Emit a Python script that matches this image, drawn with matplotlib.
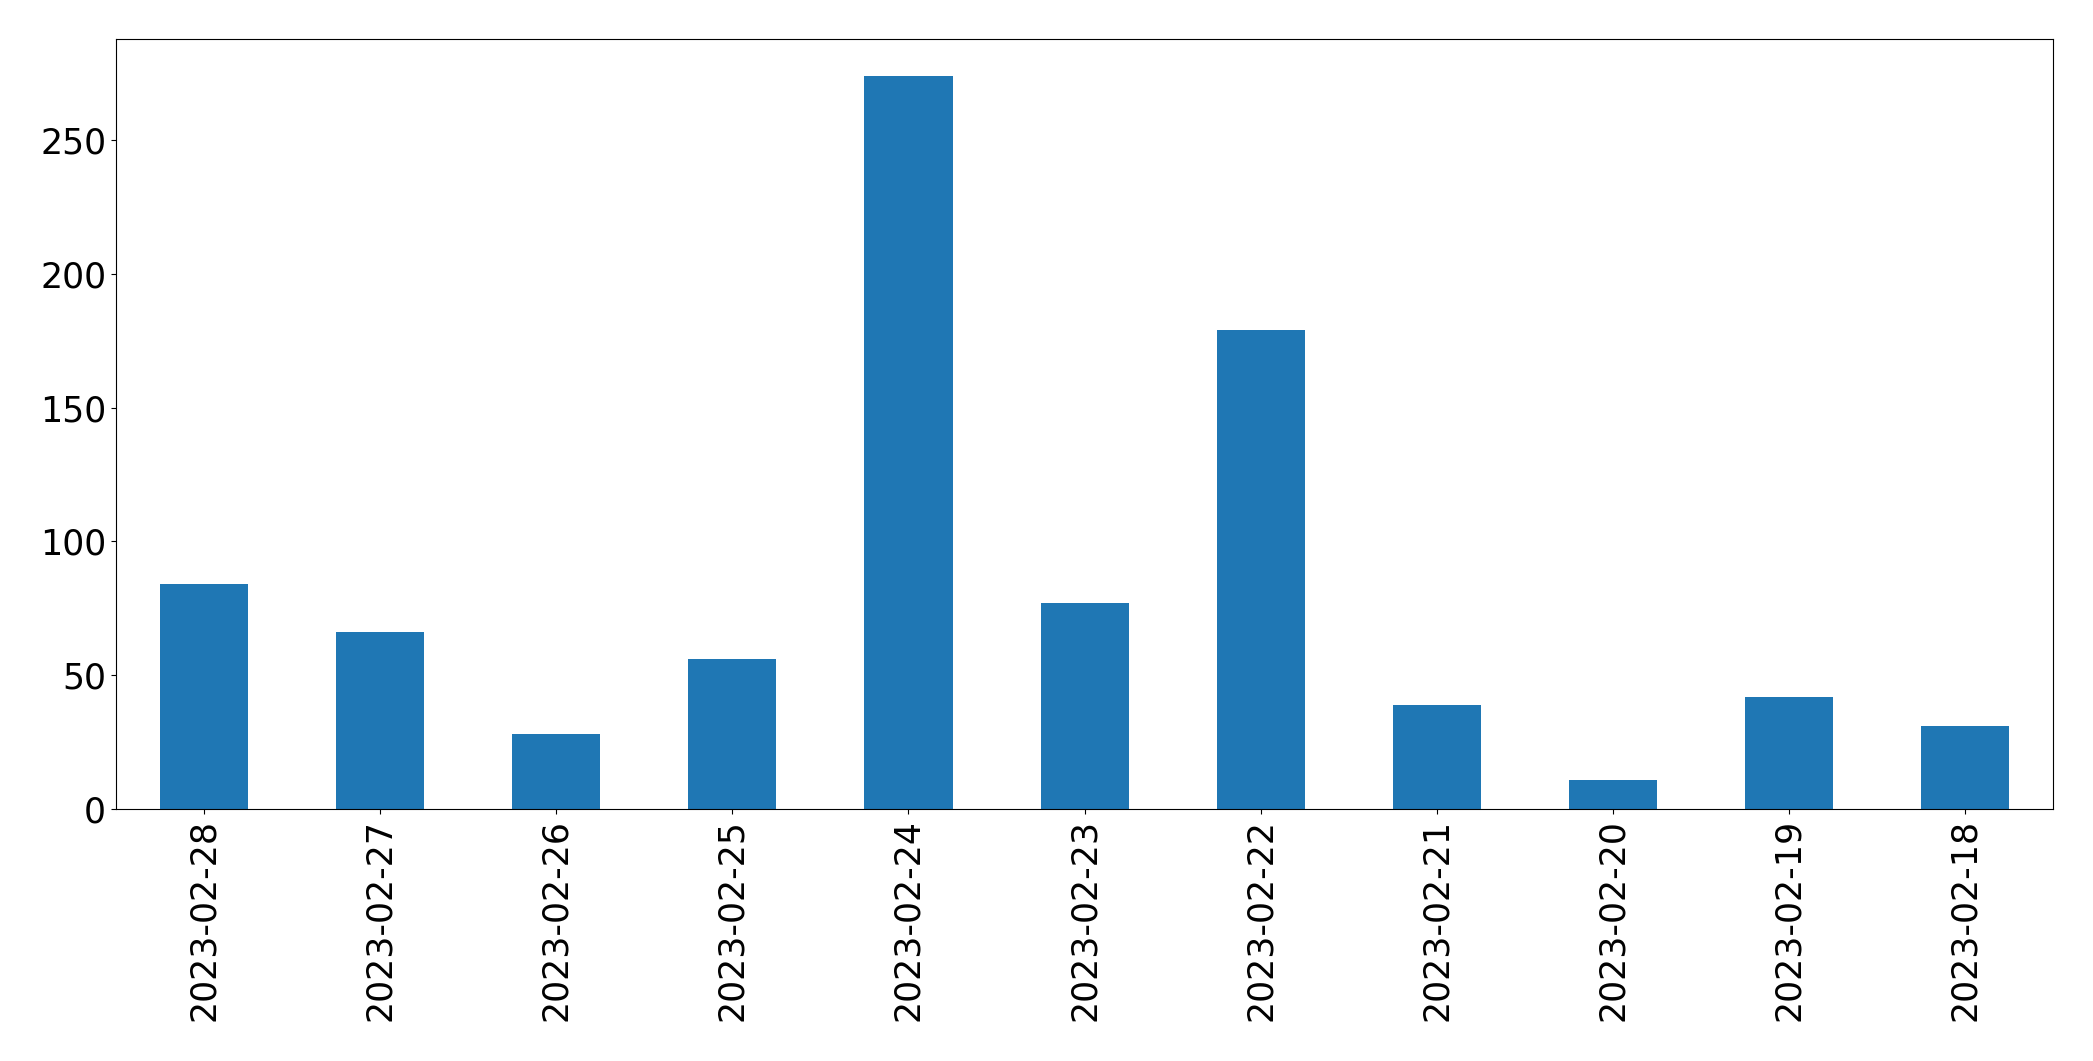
import pandas as pd
import matplotlib.pyplot as plt

dates = ["2023-02-28", "2023-02-27", "2023-02-26", "2023-02-25", "2023-02-24",
         "2023-02-23", "2023-02-22", "2023-02-21", "2023-02-20", "2023-02-19",
         "2023-02-18"]
counts = [84, 66, 28, 56, 274, 77, 179, 39, 11, 42, 31]

s = pd.Series(counts, index=dates)

fig, ax = plt.subplots(figsize=(20.93, 10.61), dpi=100)
s.plot(kind="bar", ax=ax, color="#1f77b4", fontsize=25)

fig.subplots_adjust(left=0.0554, right=0.981, top=0.963, bottom=0.2375)
plt.savefig("out.png", dpi=100)
